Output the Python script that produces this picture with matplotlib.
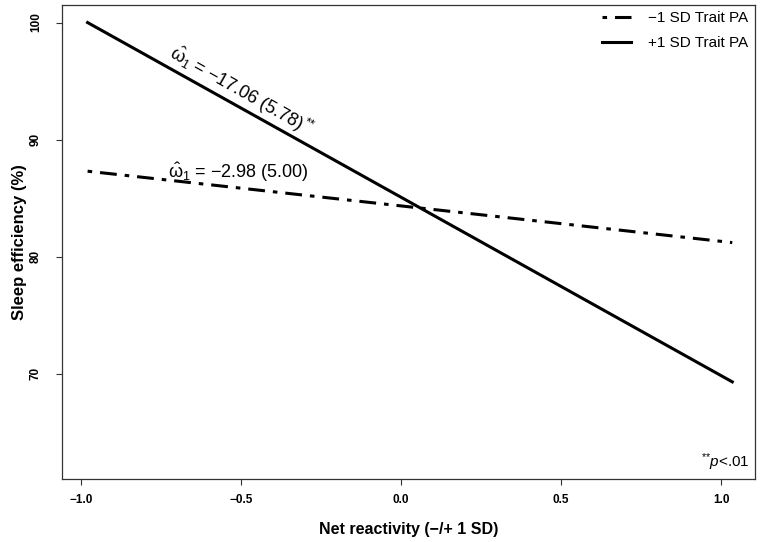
import numpy as np
import matplotlib.pyplot as plt

plt.rcParams['font.family'] = ['Liberation Sans', 'DejaVu Sans']
plt.rcParams['mathtext.fontset'] = 'custom'
plt.rcParams['mathtext.rm'] = 'Liberation Sans'
plt.rcParams['mathtext.it'] = 'Liberation Sans:italic'

# simple slopes: net reactivity at -1 SD / +1 SD, sleep efficiency (%)
x_vals = [-0.98, 1.035]
low_pa = [87.3, 81.2]     # -1 SD Trait PA
high_pa = [100.0, 69.3]   # +1 SD Trait PA
labels = ["\u22121 SD Trait PA", "+1 SD Trait PA"]

fig = plt.figure(figsize=(7.62, 5.42), dpi=100)
ax = fig.add_axes([62/762, 1 - 479/542, (755 - 62)/762, (479 - 5)/542])

ax.plot(x_vals, low_pa, color="black", lw=2.2, linestyle=(0, (1.5, 2.6, 5.5, 2.6)),
        dash_capstyle="butt", label=labels[0])
ax.plot(x_vals, high_pa, color="black", lw=2.2, label=labels[1])

ax.set_xlim(-1.06, 1.106)
ax.set_ylim(61, 101.5)
ax.set_xticks([-1.0, -0.5, 0.0, 0.5, 1.0])
ax.set_xticklabels(["\u22121.0", "\u22120.5", "0.0", "0.5", "1.0"], fontweight="bold", fontsize=8.5)
ax.set_yticks([70, 80, 90, 100])
ax.set_yticklabels(["70", "80", "90", "100"], rotation=90, va="center", fontweight="bold", fontsize=8.5)
ax.tick_params(direction="out", length=4.5, width=0.8, color="#333333")
ax.tick_params(axis="x", pad=6)
ax.tick_params(axis="y", pad=10)
for s in ax.spines.values():
    s.set_color("#333333")
    s.set_linewidth(0.9)

ax.set_xlabel("Net reactivity (\u2212/+ 1 SD)", fontweight="bold", fontsize=11.5, labelpad=12)
ax.set_ylabel("Sleep efficiency (%)", fontweight="bold", fontsize=12, labelpad=2)

ax.text(-0.50, 94.1, r"$\hat{\mathrm{\omega}}_1$ = " + "\u221217.06 (5.78)" + r"$^{{*}{*}}$",
        fontsize=13, rotation=-29.5, rotation_mode="anchor", ha="center", va="center")
ax.text(-0.51, 87.2, r"$\hat{\mathrm{\omega}}_1$ = " + "\u22122.98 (5.00)",
        fontsize=13, ha="center", va="center")
ax.text(0.993, 0.012, r"$^{{*}{*}}$" + "$\\it{p}$<.01", transform=ax.transAxes,
        fontsize=11, ha="right", va="bottom")

ax.legend(loc="upper right", bbox_to_anchor=(1.005, 1.01), frameon=False, fontsize=11,
          handlelength=1.9, handletextpad=1.1, labelspacing=0.75, borderpad=0.2)

fig.savefig("out.png", dpi=100)
